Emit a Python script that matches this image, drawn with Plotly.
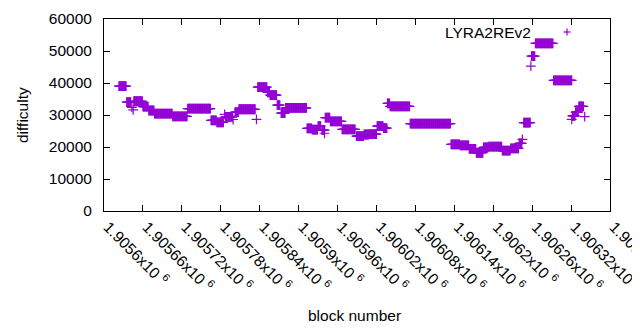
import plotly.graph_objects as go

# Runs of blocks (first block, last block) sharing one difficulty value
run_first = [1905623, 1905635, 1905643, 1905645, 1905646, 1905660, 1905669, 1905678,
             1905706, 1905729, 1905765, 1905774, 1905786, 1905787, 1905799, 1905802,
             1905808, 1905835, 1905837, 1905852, 1905856, 1905867, 1905873, 1905880,
             1905913, 1905921, 1905930, 1905936, 1905940, 1905941, 1905949, 1905967,
             1905989, 1906001, 1906009, 1906021, 1906031, 1906037, 1906041, 1906072,
             1906135, 1906149, 1906163, 1906174, 1906185, 1906193, 1906214, 1906227,
             1906240, 1906245, 1906247, 1906258, 1906259, 1906265, 1906293, 1906321,
             1906322, 1906327, 1906332, 1906341]
run_last = [1905634, 1905641, 1905643, 1905645, 1905659, 1905668, 1905677, 1905705,
            1905728, 1905764, 1905773, 1905784, 1905786, 1905798, 1905799, 1905807,
            1905833, 1905835, 1905851, 1905855, 1905866, 1905871, 1905879, 1905912,
            1905920, 1905929, 1905934, 1905940, 1905940, 1905948, 1905966, 1905987,
            1906000, 1906008, 1906020, 1906030, 1906036, 1906040, 1906071, 1906134,
            1906148, 1906162, 1906173, 1906184, 1906192, 1906213, 1906226, 1906239,
            1906244, 1906245, 1906257, 1906258, 1906264, 1906292, 1906321, 1906321,
            1906326, 1906331, 1906339, 1906341]
run_difficulty = [39000, 34000, 32400, 31600, 34300, 32600, 31400, 30400,
                  29600, 32000, 28300, 27700, 30200, 29400, 28600, 30900,
                  31800, 28650, 38700, 37100, 36200, 33100, 30600, 32200,
                  25800, 25400, 26500, 25300, 24300, 29200, 28000, 25500,
                  23400, 23900, 24000, 26500, 25900, 33650, 32700, 27300,
                  20850, 20500, 19400, 18200, 19900, 20100, 18850, 19600,
                  21150, 22400, 27600, 45300, 48400, 52400, 40850, 28650,
                  29700, 30900, 32700, 29500]

x_tick_values = [1905600, 1905660, 1905720, 1905780, 1905840, 1905900, 1905960,
                 1906020, 1906080, 1906140, 1906200, 1906260, 1906320, 1906380]
x_tick_labels = ["1.9056", "1.90566", "1.90572", "1.90578", "1.90584", "1.9059",
                 "1.90596", "1.90602", "1.90608", "1.90614", "1.9062", "1.90626",
                 "1.90632", "1.90638"]
y_tick_values = [0, 10000, 20000, 30000, 40000, 50000, 60000]
y_tick_labels = ["0", "10000", "20000", "30000", "40000", "50000", "60000"]

blocks, difficulty = [], []
for a, b, d in zip(run_first, run_last, run_difficulty):
    for blk in range(a, b + 1):
        blocks.append(blk)
        difficulty.append(d)

COLOR = "#9400d3"
FONT = "Liberation Sans, Arial, sans-serif"
FS = 15.5

fig = go.Figure()
fig.add_trace(go.Scatter(
    x=blocks, y=difficulty, mode="markers", name="LYRA2REv2", showlegend=False,
    marker=dict(symbol="cross-thin", size=7, line=dict(width=1.2, color=COLOR), color=COLOR),
))

# page body has an 8px default margin; the figure is sized to fill the rest of the window
OFF = 8
W, H = 640 - OFF, 330 - OFF
L, T = 104 - OFF, 19 - OFF
pw, ph = 506, 192
R, B = W - L - pw, H - T - ph

def px(xp):
    return (xp - OFF - L) / pw

def py(yp):
    return (T + ph - (yp - OFF)) / ph

fig.update_layout(
    width=W, height=H, margin=dict(l=L, r=R, t=T, b=B),
    paper_bgcolor="white", plot_bgcolor="white",
    font=dict(family=FONT, size=FS, color="black"),
    xaxis=dict(
        range=[1905600, 1906380], tickmode="array", tickvals=x_tick_values,
        ticktext=[t + "x10 <sup>6</sup>" for t in x_tick_labels],
        tickangle=45, ticks="inside", ticklen=6, tickcolor="black",
        showline=True, linecolor="black", linewidth=1, mirror="allticks",
        showgrid=False, zeroline=False, tickfont=dict(size=FS), automargin=False,
        ticklabelshift=4, ticklabeloverflow="allow",
    ),
    yaxis=dict(
        range=[0, 60000], tickmode="array", tickvals=y_tick_values,
        ticktext=y_tick_labels,
        ticks="inside", ticklen=6, tickcolor="black",
        showline=True, linecolor="black", linewidth=1, mirror="allticks",
        showgrid=False, zeroline=False, tickfont=dict(size=FS),
        ticklabelstandoff=8, automargin=False,
    ),
    annotations=[
        dict(text="difficulty", x=px(22), y=py(115), xref="paper", yref="paper",
             textangle=-90, showarrow=False, xanchor="center", yanchor="middle",
             font=dict(size=FS)),
        dict(text="block number", x=px(354), y=py(315), xref="paper", yref="paper",
             showarrow=False, xanchor="center", yanchor="middle", font=dict(size=FS)),
        dict(text="LYRA2REv2", x=px(533), y=py(32), xref="paper", yref="paper",
             showarrow=False, xanchor="right", yanchor="middle", font=dict(size=FS)),
    ],
    shapes=[
        dict(type="line", xref="paper", yref="paper", x0=px(563.5), x1=px(570.5),
             y0=py(32), y1=py(32), line=dict(color=COLOR, width=1.2)),
        dict(type="line", xref="paper", yref="paper", x0=px(567), x1=px(567),
             y0=py(28.5), y1=py(35.5), line=dict(color=COLOR, width=1.2)),
    ],
)

fig.write_html("out.html")
